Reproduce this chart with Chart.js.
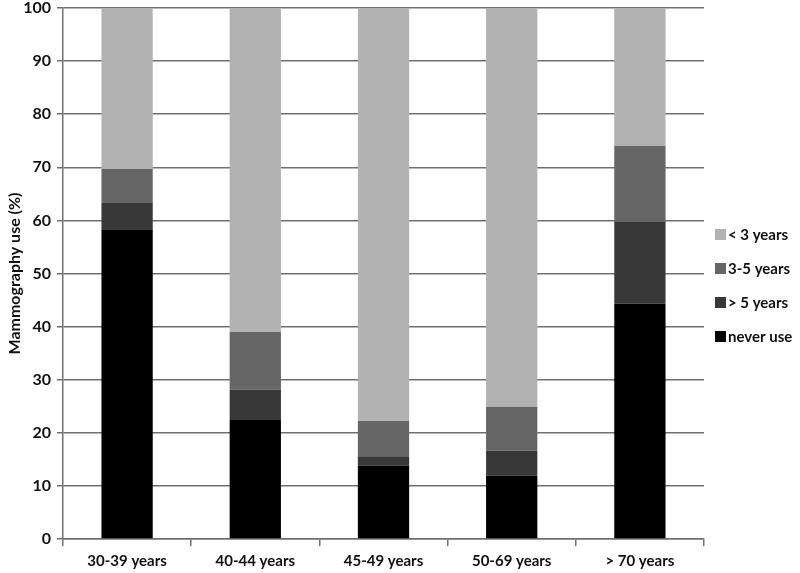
<!DOCTYPE html>
<html>
<head>
<meta charset="utf-8">
<script src="https://cdn.jsdelivr.net/npm/chart.js@4/dist/chart.umd.min.js"></script>
<style>
	html, body { margin: 0; padding: 0; background: #fff; }
	#wrap { width: 800px; height: 573px; }
</style>
</head>
<body>
<div id="wrap"><canvas id="mammoChart" width="800" height="573"></canvas></div>
<script>
// Age groups on the x axis
const ageGroups = ["30-39 years", "40-44 years", "45-49 years", "50-69 years", "> 70 years"];

// Percent of each group, stacked from the bottom up
const neverUse = [58.2, 22.4, 13.8, 11.9, 44.3];
const over5Years = [5.1, 5.7, 1.8, 4.7, 15.4];
const from3to5Years = [6.4, 10.9, 6.6, 8.3, 14.3];
const under3Years = [30.3, 61.0, 77.8, 75.1, 26.0];

const yTicks = [0, 10, 20, 30, 40, 50, 60, 70, 80, 90, 100];

const fontFamily = "Lato, 'Open Sans', sans-serif";

Chart.defaults.font.family = fontFamily;
Chart.defaults.color = "#111";

// Legend drawn beside the plot, top entry is the last dataset
const sideLegend = {
	id: "sideLegend",
	afterDraw: function (chart) {
		const ctx = chart.ctx;
		const sets = chart.data.datasets.slice().reverse();
		const left = chart.chartArea.right + 11;
		let y = 235;

		ctx.save();
		ctx.font = "bold 15px " + fontFamily;
		ctx.textBaseline = "middle";
		ctx.textAlign = "left";
		sets.forEach(function (ds) {
			ctx.fillStyle = ds.backgroundColor;
			ctx.fillRect(left, y - 6, 11, 11);
			ctx.fillStyle = "#111";
			ctx.fillText(ds.label, left + 13, y);
			y += 34;
		});
		ctx.restore();
	},
};

const mammoChart = new Chart(document.getElementById("mammoChart").getContext("2d"), {
	type: "bar",
	data: {
		labels: ageGroups,
		datasets: [
			{ label: "never use", data: neverUse, backgroundColor: "#000000" },
			{ label: "> 5 years", data: over5Years, backgroundColor: "#383838" },
			{ label: "3-5 years", data: from3to5Years, backgroundColor: "#666666" },
			{ label: "< 3 years", data: under3Years, backgroundColor: "#b2b2b2" },
		],
	},
	options: {
		responsive: false,
		animation: false,
		layout: {
			padding: { top: 8, right: 96, bottom: 0, left: 0 },
		},
		datasets: {
			bar: {
				categoryPercentage: 1.0,
				barPercentage: 0.4,
			},
		},
		scales: {
			x: {
				stacked: true,
				grid: {
					drawOnChartArea: false,
					drawTicks: true,
					tickLength: 7,
					color: "#707070",
					lineWidth: 1.5,
				},
				border: { color: "#707070", width: 1.5 },
				ticks: {
					font: { size: 15, weight: "bold" },
					color: "#111",
					padding: 6,
				},
				afterFit: function (scale) {
					scale.height = 34;
				},
			},
			y: {
				stacked: true,
				min: 0,
				max: 100,
				afterBuildTicks: function (scale) {
					scale.ticks = yTicks.map((v) => ({ value: v }));
				},
				grid: {
					color: "#707070",
					lineWidth: 1.5,
					tickLength: 6,
				},
				border: { color: "#707070", width: 1.5 },
				ticks: {
					font: { size: 16, weight: "bold" },
					color: "#111",
					padding: 6,
				},
				title: {
					display: true,
					text: "Mammography use (%)",
					font: { size: 16, weight: "bold" },
					color: "#111",
					padding: { top: 5, bottom: 0 },
				},
				afterFit: function (scale) {
					scale.width = 63;
					// let the top label sit above the plot edge
					scale.paddingTop = 0;
					scale.paddingBottom = 0;
				},
			},
		},
		plugins: {
			legend: { display: false },
			tooltip: { enabled: false },
		},
	},
	plugins: [sideLegend],
});
</script>
</body>
</html>
